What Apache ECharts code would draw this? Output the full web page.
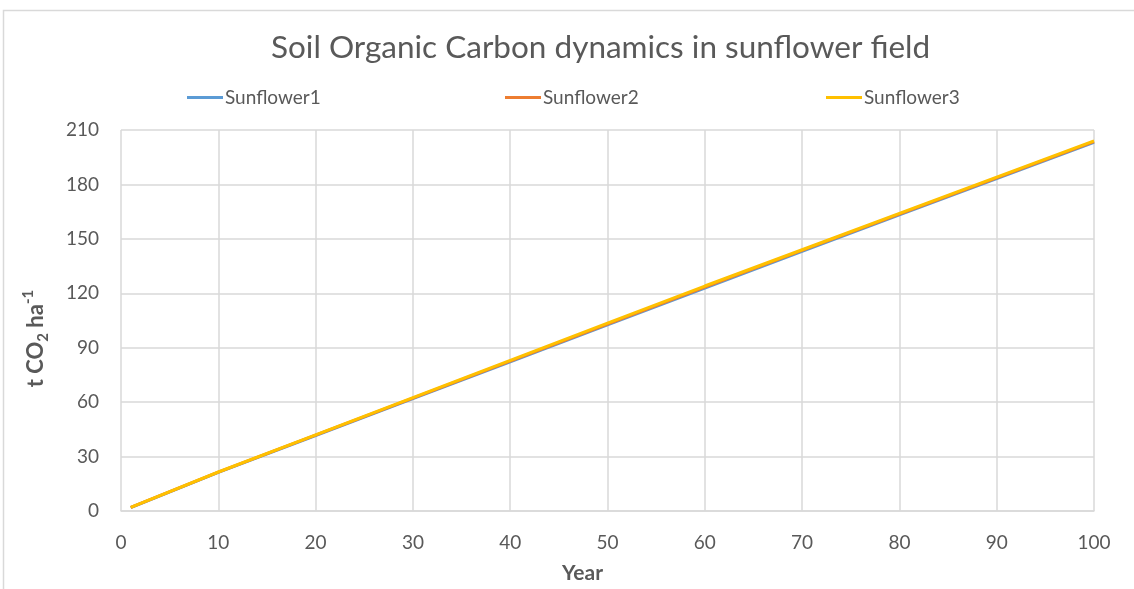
<!DOCTYPE html>
<html>
<head>
<meta charset="utf-8">
<script src="https://cdn.jsdelivr.net/npm/echarts@6/dist/echarts.min.js"></script>
<style>
  html, body { margin: 0; padding: 0; background: #fff; }
  #chart { width: 1134px; height: 589px; }
</style>
</head>
<body>
<div id="chart"></div>
<script>
// Soil organic carbon stock (t CO2 per ha) over a 100-year horizon
const years = [1, 10, 20, 30, 40, 50, 60, 70, 80, 90, 100];
const sunflower1 = [1.9, 21.3, 41.6, 61.9, 82.2, 102.6, 122.9, 143.1, 163.2, 183.2, 203.2];
const sunflower2 = [2.0, 21.4, 41.8, 62.2, 82.6, 103.0, 123.4, 143.6, 163.6, 183.6, 203.6];
const sunflower3 = [2.0, 21.5, 42.0, 62.5, 83.0, 103.5, 124.0, 144.0, 164.0, 184.0, 204.0];
const seriesNames = ['Sunflower1', 'Sunflower2', 'Sunflower3'];
const seriesColors = ['#5B9BD5', '#ED7D31', '#FFC000'];
const xTicks = { min: 0, max: 100, step: 10 };
const yTicks = { min: 0, max: 210, step: 30 };

const FONT = 'Lato, "Open Sans", sans-serif';
const TEXT = '#595959';
const GRID = '#d9d9d9';

const pairs = vals => years.map((y, i) => [y, vals[i]]);
const allValues = [sunflower1, sunflower2, sunflower3];

const legendLeft = [182, 500, 821];

const chart = echarts.init(document.getElementById('chart'), null, { renderer: 'canvas' });
chart.setOption({
  backgroundColor: '#fff',
  animation: false,
  title: {
    text: 'Soil Organic Carbon dynamics in sunflower field',
    left: 266,
    top: 27,
    textStyle: { fontFamily: FONT, fontSize: 31.5, fontWeight: 'normal', color: TEXT }
  },
  legend: seriesNames.map((n, i) => ({
    data: [n],
    left: legendLeft[i],
    top: 83,
    itemWidth: 36,
    itemHeight: 3,
    itemGap: 0,
    icon: 'rect',
    textStyle: { fontFamily: FONT, fontSize: 19, color: TEXT, padding: [0, 0, 0, -3] }
  })),
  grid: { left: 121, right: 40, top: 130, bottom: 71 },
  xAxis: {
    type: 'value',
    min: xTicks.min, max: xTicks.max, interval: xTicks.step,
    name: 'Year',
    nameLocation: 'middle',
    nameGap: 52,
    nameTextStyle: { fontFamily: FONT, fontSize: 21, fontWeight: 'bold', color: TEXT, padding: [0, 50, 0, 0] },
    axisLine: { show: true, lineStyle: { color: GRID, width: 1.5 } },
    axisTick: { show: false },
    axisLabel: { fontFamily: FONT, fontSize: 19, color: TEXT, margin: 22 },
    splitLine: { show: true, lineStyle: { color: GRID, width: 1.5 } }
  },
  yAxis: {
    type: 'value',
    min: yTicks.min, max: yTicks.max, interval: yTicks.step,
    name: '{a|t CO}{sub|2}{a| ha}{sup|-1}',
    nameLocation: 'middle',
    nameRotate: 90,
    nameGap: 70,
    nameTextStyle: {
      color: TEXT,
      padding: [0, 36, 0, 0],
      rich: {
        a: { fontFamily: FONT, fontSize: 22, fontWeight: 'bold', color: TEXT, verticalAlign: 'middle', lineHeight: 30 },
        sub: { fontFamily: FONT, fontSize: 15, fontWeight: 'bold', color: TEXT, verticalAlign: 'bottom', lineHeight: 30 },
        sup: { fontFamily: FONT, fontSize: 15, fontWeight: 'bold', color: TEXT, verticalAlign: 'top', lineHeight: 30 }
      }
    },
    axisLine: { show: false },
    axisTick: { show: false },
    axisLabel: { fontFamily: FONT, fontSize: 19, color: TEXT, margin: 22 },
    splitLine: { show: true, lineStyle: { color: GRID, width: 1.5 } }
  },
  series: seriesNames.map((n, i) => ({
    name: n,
    type: 'line',
    data: pairs(allValues[i]),
    showSymbol: false,
    color: seriesColors[i],
    lineStyle: { width: 3, color: seriesColors[i] }
  })),
  graphic: [{
    type: 'rect',
    shape: { x: 3.5, y: 10.5, width: 1300, height: 700 },
    style: { fill: 'none', stroke: GRID, lineWidth: 1.5 },
    silent: true
  }]
});
</script>
</body>
</html>
